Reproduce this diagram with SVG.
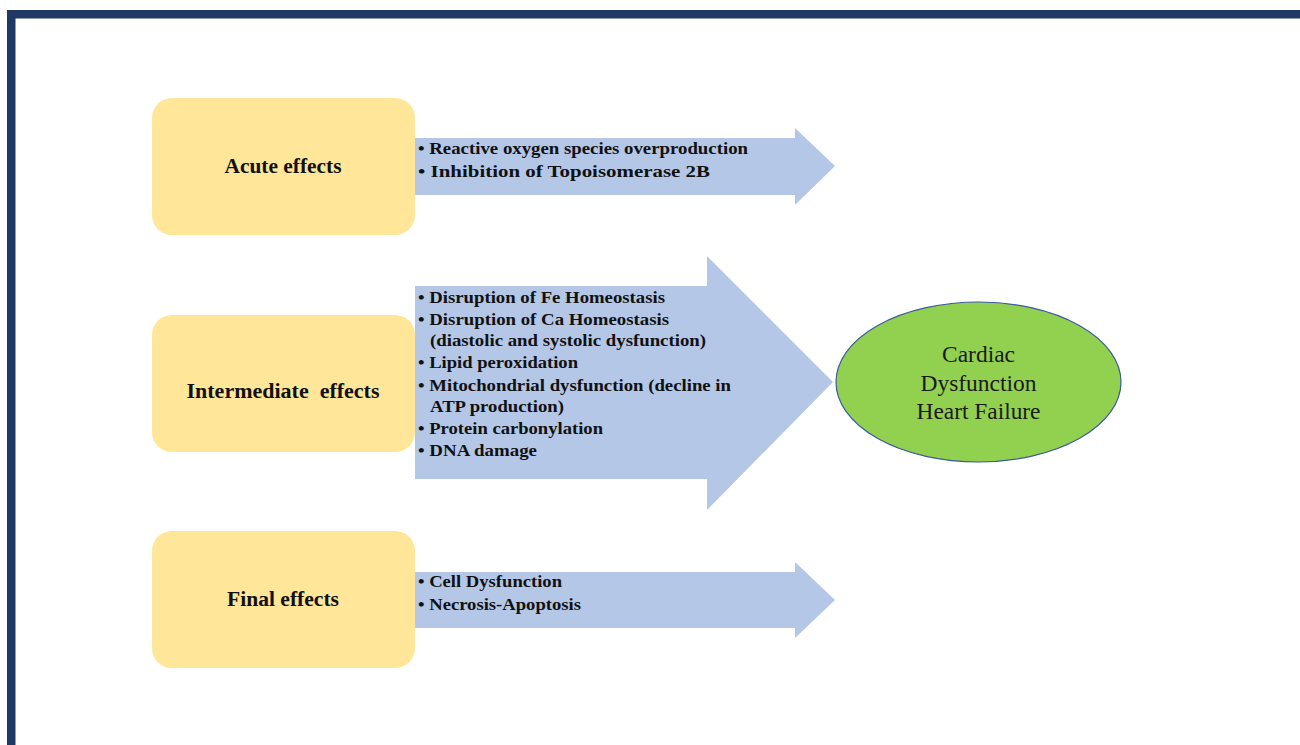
<svg xmlns="http://www.w3.org/2000/svg" width="1300" height="745" viewBox="0 0 1300 745">
<style>
.box{fill:#ffe699;}
.arr{fill:#b4c7e7;}
.bt{font-family:"Liberation Serif","Times New Roman",serif;font-weight:bold;font-size:20px;fill:#111;text-anchor:middle;}
.it{font-family:"Liberation Serif","Times New Roman",serif;font-weight:bold;font-size:17.5px;fill:#111;}
.et{font-family:"Liberation Serif","Times New Roman",serif;font-size:23px;fill:#1a1a1a;text-anchor:middle;}
</style>
<rect x="0" y="0" width="1300" height="745" fill="#ffffff"/>
<rect x="7" y="10" width="1293" height="8.5" fill="#203864"/>
<rect x="7" y="10" width="8.5" height="735" fill="#203864"/>
<g id="connectors">
<path class="arr" d="M415,138 H795 V128 L835,166 L795,205 V195 H415 Z"/>
<path class="arr" d="M415,286 H707 V256 L833,382 L707,510 V479 H415 Z"/>
<path class="arr" d="M415,572 H795 V562 L835,600 L795,638 V628 H415 Z"/>
</g>
<g id="acute">
<rect class="box" x="152" y="98" width="263" height="137" rx="20"/>
<text class="bt" x="283" y="173" textLength="117" lengthAdjust="spacingAndGlyphs">Acute effects</text>
</g>
<g id="intermediate">
<rect class="box" x="152" y="315" width="263" height="137" rx="20"/>
<text class="bt" x="283" y="398" xml:space="preserve" textLength="193" lengthAdjust="spacingAndGlyphs">Intermediate  effects</text>
</g>
<g id="final">
<rect class="box" x="152" y="531" width="263" height="137" rx="20"/>
<text class="bt" x="283" y="606" textLength="112" lengthAdjust="spacingAndGlyphs">Final effects</text>
</g>
<g id="acute-items">
<text class="it" x="418" y="154" textLength="330" lengthAdjust="spacingAndGlyphs">• Reactive oxygen species overproduction</text>
<text class="it" x="418" y="177" textLength="292" lengthAdjust="spacingAndGlyphs">• Inhibition of Topoisomerase 2B</text>
</g>
<g id="intermediate-items">
<text class="it" x="418" y="303" textLength="247" lengthAdjust="spacingAndGlyphs">• Disruption of Fe Homeostasis</text>
<text class="it" x="418" y="325" textLength="251" lengthAdjust="spacingAndGlyphs">• Disruption of Ca Homeostasis</text>
<text class="it" x="430" y="346" textLength="276" lengthAdjust="spacingAndGlyphs">(diastolic and systolic dysfunction)</text>
<text class="it" x="418" y="368" textLength="160" lengthAdjust="spacingAndGlyphs">• Lipid peroxidation</text>
<text class="it" x="418" y="391" textLength="313" lengthAdjust="spacingAndGlyphs">• Mitochondrial dysfunction (decline in</text>
<text class="it" x="430" y="412" textLength="134" lengthAdjust="spacingAndGlyphs">ATP production)</text>
<text class="it" x="418" y="434" textLength="185" lengthAdjust="spacingAndGlyphs">• Protein carbonylation</text>
<text class="it" x="418" y="456" textLength="119" lengthAdjust="spacingAndGlyphs">• DNA damage</text>
</g>
<g id="final-items">
<text class="it" x="418" y="587" textLength="144" lengthAdjust="spacingAndGlyphs">• Cell Dysfunction</text>
<text class="it" x="418" y="610" textLength="163" lengthAdjust="spacingAndGlyphs">• Necrosis-Apoptosis</text>
</g>
<g id="outcome">
<ellipse cx="978.5" cy="382" rx="142.5" ry="80" fill="#92d050" stroke="#3a5c9c" stroke-width="1.2"/>
<text class="et" x="978.5" y="362" textLength="73" lengthAdjust="spacingAndGlyphs">Cardiac</text>
<text class="et" x="978.5" y="391" textLength="116" lengthAdjust="spacingAndGlyphs">Dysfunction</text>
<text class="et" x="978.5" y="419" textLength="124" lengthAdjust="spacingAndGlyphs">Heart Failure</text>
</g>
</svg>
